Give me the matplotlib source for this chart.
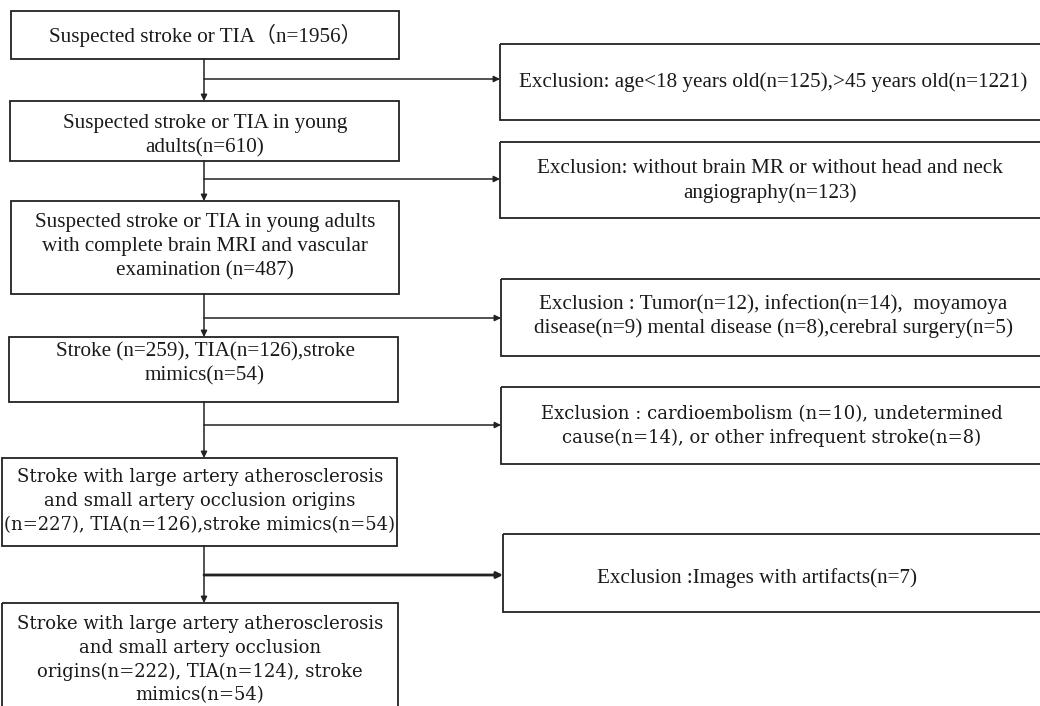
import matplotlib.pyplot as plt
from matplotlib.patches import Rectangle

plt.rcParams['font.family'] = ['Liberation Serif', 'Noto Sans CJK SC', 'DejaVu Sans']

# main flow boxes (left column)
main_texts = [
    "Suspected stroke or TIA（n=1956）",
    "Suspected stroke or TIA in young\nadults(n=610)",
    "Suspected stroke or TIA in young adults\nwith complete brain MRI and vascular\nexamination (n=487)",
    "Stroke (n=259), TIA(n=126),stroke\nmimics(n=54)",
    "Stroke with large artery atherosclerosis\nand small artery occlusion origins\n(n=227), TIA(n=126),stroke mimics(n=54)",
    "Stroke with large artery atherosclerosis\nand small artery occlusion\norigins(n=222), TIA(n=124), stroke\nmimics(n=54)",
]
# exclusion boxes (right column)
excl_texts = [
    "Exclusion: age<18 years old(n=125),>45 years old(n=1221)",
    "Exclusion: without brain MR or without head and neck\nangiography(n=123)",
    "Exclusion : Tumor(n=12), infection(n=14),  moyamoya\ndisease(n=9) mental disease (n=8),cerebral surgery(n=5)",
    "Exclusion : cardioembolism (n=10), undetermined\ncause(n=14), or other infrequent stroke(n=8)",
    "Exclusion :Images with artifacts(n=7)",
]

# layout in pixels (left, top, right, bottom)
main_boxes = [(11, 11, 399, 59), (10, 101, 399, 161), (11, 201, 399, 294),
              (9, 337, 398, 402), (2, 458, 397, 546), (2, 603, 398, 720)]
main_text_pos = [(205, 35), (205, 136), (205, 247), (205, 364), (200, 501), (200, 660)]
main_wide = [False, False, False, False, True, True]
excl_boxes = [(500, 44, 1045, 120), (500, 142, 1045, 218), (501, 279, 1045, 356),
              (501, 387, 1045, 464), (503, 534, 1045, 612)]
excl_text_pos = [(773, 82), (770, 181), (773, 316), (772, 426), (757, 578)]
excl_wide = [False, False, False, True, False]
branch_y = [79, 179, 318, 425, 575]
spine_x = 204

fig = plt.figure(figsize=(10.4, 7.06), dpi=100)
ax = fig.add_axes([0, 0, 1, 1])
ax.set_xlim(0, 1040)
ax.set_ylim(706, 0)
ax.axis('off')


def draw_box(box, txt, pos, wide):
    l, t, r, b = box
    ax.add_patch(Rectangle((l, t), r - l, b - t, fill=False, ec='#222222', lw=1.3))
    if wide:
        ax.text(pos[0], pos[1], txt, ha='center', va='center', fontsize=13.0,
                family=['DejaVu Serif'], color='#1a1a1a', linespacing=1.4)
    else:
        ax.text(pos[0], pos[1], txt, ha='center', va='center', fontsize=15.2,
                color='#1a1a1a', linespacing=1.35)


for box, txt, pos, wide in zip(main_boxes, main_texts, main_text_pos, main_wide):
    draw_box(box, txt, pos, wide)
for box, txt, pos, wide in zip(excl_boxes, excl_texts, excl_text_pos, excl_wide):
    draw_box(box, txt, pos, wide)

arrow = dict(arrowstyle='-|>', color='#222222', lw=1.1, mutation_scale=9,
             shrinkA=0, shrinkB=0)
for i in range(len(main_boxes) - 1):
    top = main_boxes[i][3]
    bottom = main_boxes[i + 1][1]
    ax.annotate('', xy=(spine_x, bottom), xytext=(spine_x, top), arrowprops=arrow)
    lw = 2.0 if i == len(main_boxes) - 2 else 1.1
    ax.annotate('', xy=(excl_boxes[i][0], branch_y[i]), xytext=(spine_x, branch_y[i]),
                arrowprops=dict(arrow, lw=lw))

fig.savefig('out.png', dpi=100, facecolor='white')
